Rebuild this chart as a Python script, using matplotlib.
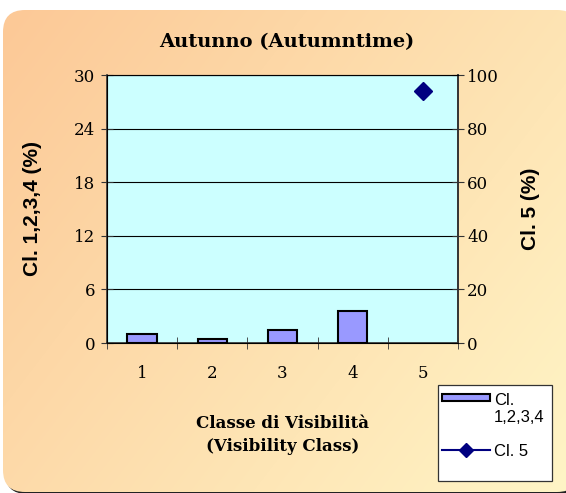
import numpy as np
import matplotlib
matplotlib.use("Agg")
import matplotlib.pyplot as plt
from matplotlib.patches import FancyBboxPatch, Rectangle, Patch
from matplotlib.lines import Line2D
from matplotlib.legend_handler import HandlerPatch

categories = ["1", "2", "3", "4", "5"]
cl1234 = [1.0, 0.4, 1.4, 3.6, None]
cl5 = [None, None, None, None, 94]
left_ticks = [0, 6, 12, 18, 24, 30]
right_ticks = [0, 20, 40, 60, 80, 100]

W, H = 566, 493
fig = plt.figure(figsize=(W / 100, H / 100), dpi=100)
fig.patch.set_facecolor("white")

serif = ["DejaVu Serif"]
sans = ["Liberation Sans", "DejaVu Sans"]

# background gradient rounded box
bg = fig.add_axes([0, 0, 1, 1])
bg.axis("off")
yy, xx = np.mgrid[0:H, 0:W]
t = (xx / W * 0.6 + yy / H * 0.4)
c0 = np.array([252, 200, 150]) / 255
c1 = np.array([255, 245, 198]) / 255
img = c0[None, None, :] * (1 - t[..., None]) + c1[None, None, :] * t[..., None]
shadow = FancyBboxPatch((5, 12), W + 10, 482, boxstyle="round,pad=0,rounding_size=22",
                        facecolor="#222222", edgecolor="none")
bg.add_patch(shadow)
box = FancyBboxPatch((3, 10), W + 10, 482, boxstyle="round,pad=0,rounding_size=22",
                     facecolor="none", edgecolor="none")
bg.add_patch(box)
im = bg.imshow(img, extent=(0, W, H, 0), aspect="auto", zorder=2)
im.set_clip_path(box)
bg.set_xlim(0, W)
bg.set_ylim(H, 0)

ax = fig.add_axes([107 / W, 1 - 343 / H, (458 - 107) / W, (343 - 75) / H])
ax.set_facecolor("#CCFFFF")
x = np.arange(len(categories))
bx = [i for i, v in enumerate(cl1234) if v is not None]
bv = [v for v in cl1234 if v is not None]
ax.bar(bx, bv, width=0.42, color="#9999FF", edgecolor="black", linewidth=1.5, zorder=3)
ax.set_xlim(-0.5, len(categories) - 0.5)
ax.set_ylim(0, 30)
ax.set_yticks(left_ticks)
ax.set_yticklabels([str(v) for v in left_ticks], family=serif, fontsize=12)
ax.set_xticks(x)
ax.set_xticklabels(categories, family=serif, fontsize=12)
ax.tick_params(axis="x", which="major", length=0, pad=16)
ax.set_xticks(np.arange(-0.5, len(categories)), minor=True)
ax.tick_params(axis="x", which="minor", length=9, direction="inout", color="#333333")
ax.tick_params(axis="y", length=9, direction="inout", color="#333333", pad=4)
ax.grid(axis="y", color="black", linewidth=0.8, zorder=1)
ax.spines["top"].set_color("#777777")
for s in ["left", "bottom", "right"]:
    ax.spines[s].set_color("#333333")
    ax.spines[s].set_linewidth(1.2)
ax.set_ylabel("Cl. 1,2,3,4 (%)", family=sans, fontweight="bold", fontsize=15)
ax.yaxis.set_label_coords(-(107 - 32) / (458 - 107), 0.5)
ax.yaxis.label.set_va("center")
ax.set_xlabel("Classe di Visibilità\n(Visibility Class)", family=serif, fontweight="bold",
              fontsize=12, linespacing=1.4)
ax.xaxis.set_label_coords(0.5, -(435 - 343) / (343 - 75))
ax.xaxis.label.set_va("center")

ax2 = ax.twinx()
ax2.set_ylim(0, 100)
ax2.set_yticks(right_ticks)
ax2.set_yticklabels([str(v) for v in right_ticks], family=serif, fontsize=12)
ax2.tick_params(axis="y", length=9, direction="inout", color="#333333", pad=2)
ax2.spines["right"].set_linewidth(1.2)
ax2.spines["right"].set_color("#333333")
px = [i for i, v in enumerate(cl5) if v is not None]
pv = [v for v in cl5 if v is not None]
ax2.plot(px, pv, color="#000080", marker="D", markersize=9, linestyle="-", zorder=4)
ax2.set_ylabel("Cl. 5 (%)", family=sans, fontweight="bold", fontsize=15)
ax2.yaxis.set_label_coords(1 + (530 - 458) / (458 - 107), 0.5)
ax2.yaxis.label.set_va("center")

fig.text(287 / W, 1 - 42 / H, "Autunno (Autumntime)", family=serif, fontweight="bold",
         fontsize=14, ha="center", va="center")

# legend frame
fig.add_artist(Rectangle((438 / W, 1 - 481 / H), (552 - 438) / W, (481 - 385) / H,
                         transform=fig.transFigure, facecolor="white",
                         edgecolor="#333333", linewidth=0.9, zorder=5))


def top_patch(legend, orig_handle, xdescent, ydescent, width, height, fontsize):
    return Rectangle((-xdescent, -ydescent + 0.85 * fontsize),
                     width, 0.42 * fontsize)


handles = [Patch(facecolor="#9999FF", edgecolor="black", linewidth=1.5),
           Line2D([0], [0], color="#000080", marker="D", markersize=7)]
leg = fig.legend(handles, ["Cl.\n1,2,3,4", "Cl. 5"], loc="upper left",
                 bbox_to_anchor=(442 / W, 1 - 393 / H), frameon=False,
                 prop={"family": sans, "size": 12}, handlelength=2.9, handletextpad=0.2,
                 borderpad=0, labelspacing=1.1, borderaxespad=0,
                 handler_map={Patch: HandlerPatch(patch_func=top_patch)})
leg.set_zorder(6)

fig.savefig("out.png", dpi=100)
